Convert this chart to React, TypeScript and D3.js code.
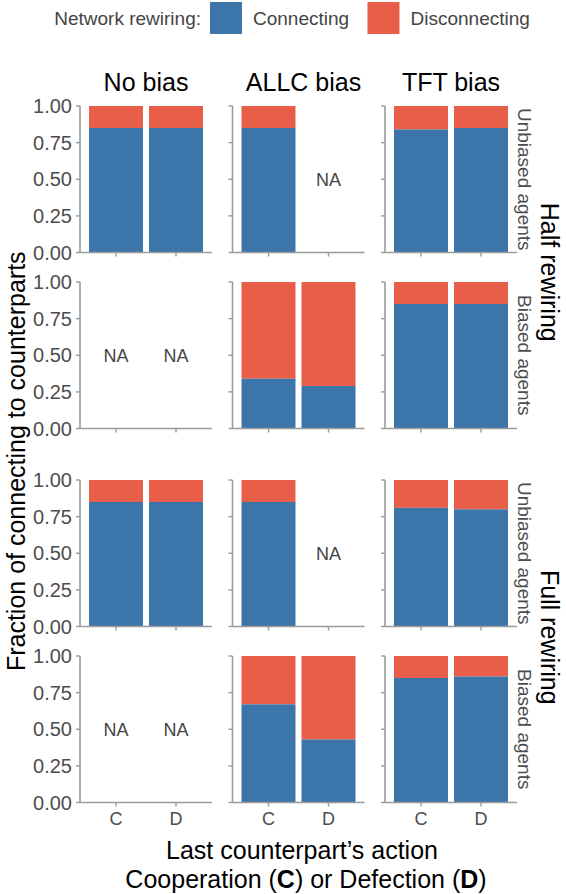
import * as d3 from "d3";

const actions = ["C", "D"];
const biasTypes = ["No bias", "ALLC bias", "TFT bias"];
const agentTypes = ["Unbiased agents", "Biased agents"];
const rewiringTypes = ["Half rewiring", "Full rewiring"];
const yTicks = [0, 0.25, 0.5, 0.75, 1];

// fraction connecting per bias column, [C, D]; null means NA
const halfUnbiased = [[0.85, 0.85], [0.85, null], [0.84, 0.85]];
const halfBiased = [[null, null], [0.34, 0.29], [0.85, 0.85]];
const fullUnbiased = [[0.85, 0.85], [0.85, null], [0.81, 0.8]];
const fullBiased = [[null, null], [0.67, 0.43], [0.85, 0.86]];

const rows = [halfUnbiased, halfBiased, fullUnbiased, fullBiased];

const legendItems = [
  { label: "Connecting", color: "#3c75a9" },
  { label: "Disconnecting", color: "#e95e48" },
];

const W = 566;
const H = 894;
const left = 80;
const top = 106;
const panelW = 132;
const panelH = 146.5;
const colStep = 152.5;
const rowGap = 29.5;
const groupGap = 51.5;
const axisColor = "#9a9a9a";
const textGray = "#4d4d4d";
const font = "'Liberation Sans', Arial, Helvetica, sans-serif";

function rowTop(r: number) {
  return top + r * (panelH + rowGap) + (r >= 2 ? groupGap - rowGap : 0);
}

export default function App() {
  const x = d3
    .scaleBand<string>()
    .domain(actions)
    .range([0, panelW])
    .paddingInner(0.1)
    .paddingOuter(0.15);
  const y = d3.scaleLinear().domain([0, 1]).range([panelH, 0]);
  const bw = x.bandwidth();

  const legendKeyX = [210, 367.5];

  return (
    <svg
      width={W}
      height={H}
      style={{ position: "absolute", left: 0, top: 0, fontFamily: font }}
    >
      <rect width={W} height={H} fill="white" />

      {/* legend */}
      <text x={201} y={25} fontSize={19} fill="#444" textAnchor="end">
        Network rewiring:
      </text>
      {legendItems.map((d, i) => (
        <g key={d.label} transform={`translate(${legendKeyX[i]},2)`}>
          <rect width={32} height={32} fill={d.color} />
          <text x={43} y={23} fontSize={19} fill="#444">
            {d.label}
          </text>
        </g>
      ))}

      {/* column titles */}
      {biasTypes.map((b, c) => (
        <text
          key={b}
          x={left + c * colStep + panelW / 2 + (c === 1 ? 5 : 0)}
          y={91}
          fontSize={25}
          textAnchor="middle"
          fill="#000"
        >
          {b}
        </text>
      ))}

      {rows.map((row, r) => (
        <g key={r} transform={`translate(0,${rowTop(r)})`}>
          {row.map((vals, c) => (
            <g key={c} transform={`translate(${left + c * colStep},0)`}>
              {vals.map((v, i) => {
                const cx = x(actions[i])!;
                if (v === null) {
                  return (
                    <text
                      key={i}
                      x={cx + bw / 2}
                      y={y(0.5)}
                      dy="0.35em"
                      fontSize={18}
                      textAnchor="middle"
                      fill="#444"
                    >
                      NA
                    </text>
                  );
                }
                return (
                  <g key={i}>
                    <rect
                      x={cx}
                      y={y(1)}
                      width={bw}
                      height={y(v) - y(1)}
                      fill={legendItems[1].color}
                    />
                    <rect
                      x={cx}
                      y={y(v)}
                      width={bw}
                      height={y(0) - y(v)}
                      fill={legendItems[0].color}
                    />
                  </g>
                );
              })}
              {/* y axis */}
              <line x1={0} x2={0} y1={y(1)} y2={y(0)} stroke={axisColor} strokeWidth={1.6} />
              {yTicks.map((t) => (
                <g key={t}>
                  <line x1={-4} x2={0} y1={y(t)} y2={y(t)} stroke={axisColor} strokeWidth={1.4} />
                  {c === 0 && (
                    <text
                      x={-8}
                      y={y(t)}
                      dy="0.36em"
                      fontSize={20}
                      textAnchor="end"
                      fill={textGray}
                    >
                      {t.toFixed(2)}
                    </text>
                  )}
                </g>
              ))}
              {/* x axis */}
              <line x1={0} x2={panelW} y1={y(0)} y2={y(0)} stroke={axisColor} strokeWidth={1.6} />
              {actions.map((a) => (
                <g key={a}>
                  <line
                    x1={x(a)! + bw / 2}
                    x2={x(a)! + bw / 2}
                    y1={y(0)}
                    y2={y(0) + 4}
                    stroke={axisColor}
                    strokeWidth={1.4}
                  />
                  {r === rows.length - 1 && (
                    <text
                      x={x(a)! + bw / 2}
                      y={y(0) + 16}
                      dy="0.36em"
                      fontSize={18}
                      textAnchor="middle"
                      fill={textGray}
                    >
                      {a}
                    </text>
                  )}
                </g>
              ))}
            </g>
          ))}
          {/* agent strip */}
          <text
            transform={`translate(518,${panelH / 2}) rotate(90)`}
            fontSize={19}
            textAnchor="middle"
            fill={textGray}
          >
            {agentTypes[r % 2]}
          </text>
        </g>
      ))}

      {/* rewiring labels */}
      {rewiringTypes.map((lab, g) => {
        const cy = (rowTop(g * 2) + rowTop(g * 2 + 1) + panelH) / 2 + (g === 0 ? 5 : -4);
        return (
          <text
            key={lab}
            transform={`translate(541,${cy}) rotate(90)`}
            fontSize={25}
            textAnchor="middle"
            fill="#000"
          >
            {lab}
          </text>
        );
      })}

      {/* y title */}
      <text
        transform={`translate(25,${(rowTop(0) + rowTop(3) + panelH) / 2 + 7}) rotate(-90)`}
        fontSize={25}
        textAnchor="middle"
        fill="#000"
      >
        Fraction of connecting to counterparts
      </text>

      {/* x title */}
      <text x={302} y={859} fontSize={25} textAnchor="middle" fill="#000">
        Last counterpart’s action
      </text>
      <text x={306} y={888} fontSize={25} textAnchor="middle" fill="#000">
        Cooperation (<tspan fontWeight="bold">C</tspan>) or Defection (
        <tspan fontWeight="bold">D</tspan>)
      </text>
    </svg>
  );
}
